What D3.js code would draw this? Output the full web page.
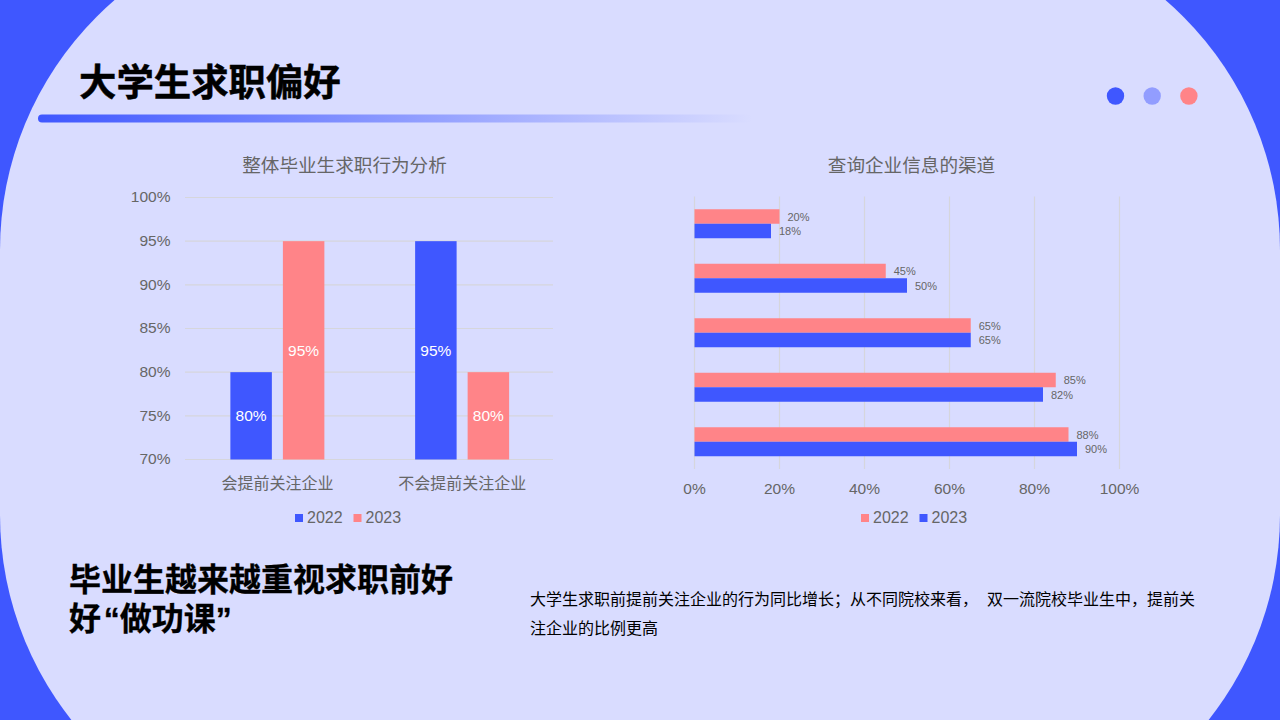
<!DOCTYPE html>
<html>
<head>
<meta charset="utf-8">
<script src="https://cdn.jsdelivr.net/npm/d3@7"></script>
<style>
  html, body { margin: 0; padding: 0; background: #3f57ff; overflow: hidden; }
  svg { display: block; }
  text { font-family: "Liberation Sans", "Noto Sans CJK SC", sans-serif; }
  .cjk { font-family: "Noto Sans CJK SC", sans-serif; }
</style>
</head>
<body>
<main></main>
<script>
// left chart
const intentCats = ["会提前关注企业", "不会提前关注企业"]
const intent2022 = [80, 95]
const intent2023 = [95, 80]
const intentTicks = [70, 75, 80, 85, 90, 95, 100]

// right chart, the reference shows no category names
const channelCats = ["a", "b", "c", "d", "e"]
const channel2022 = [20, 45, 65, 85, 88]
const channel2023 = [18, 50, 65, 82, 90]
const channelTicks = [0, 20, 40, 60, 80, 100]

const years = ["2022", "2023"]
const dotColors = ["#3f57ff", "#929dff", "#ff8488"]
const blue = "#3f57ff"
const red = "#ff8488"
const grey = "#666666"
const gridColor = "#d6d6dc"

const svg = d3.select("main").append("svg")
    .attr("width", 1280)
    .attr("height", 720)

// background shape
svg.append("rect").attr("width", 1280).attr("height", 720).attr("fill", blue)
svg.append("path")
    .attr("fill", "#d9dcff")
    .attr("d", "M0,250 A330,330 0 0 1 330,-80 L950,-80 A330,330 0 0 1 1280,250 L1280,515 A330,330 0 0 1 950,845 L330,845 A330,330 0 0 1 0,515 Z")

// header
const grad = svg.append("defs").append("linearGradient").attr("id", "headLine")
grad.append("stop").attr("offset", "0%").attr("stop-color", blue)
grad.append("stop").attr("offset", "100%").attr("stop-color", "#d9dcff")

svg.append("rect")
    .attr("x", 38).attr("y", 114.5)
    .attr("width", 714).attr("height", 8).attr("rx", 4)
    .attr("fill", "url(#headLine)")

svg.append("text")
    .attr("class", "cjk")
    .attr("x", 79).attr("y", 96)
    .attr("font-size", 37.4).attr("font-weight", 700).attr("fill", "#000")
    .attr("stroke", "#000").attr("stroke-width", 0.5)
    .text("大学生求职偏好")

svg.selectAll("circle.dot")
    .data(dotColors)
    .enter()
    .append("circle")
    .attr("class", "dot")
    .attr("cx", (d, i) => 1115.5 + i * 36.7)
    .attr("cy", 96)
    .attr("r", 8.7)
    .attr("fill", d => d)

// chart titles
svg.append("text")
    .attr("x", 344.5).attr("y", 172)
    .attr("text-anchor", "middle").attr("font-size", 18.6).attr("fill", grey)
    .text("整体毕业生求职行为分析")

svg.append("text")
    .attr("x", 911.5).attr("y", 172)
    .attr("text-anchor", "middle").attr("font-size", 18.6).attr("fill", grey)
    .text("查询企业信息的渠道")

function styleAxis(g) {
    g.select("path").remove()
    g.selectAll("line").remove()
    g.selectAll("text").attr("fill", grey).attr("font-size", 15.5)
        .style("font-family", '"Liberation Sans", "Noto Sans CJK SC", sans-serif')
}

// left chart
const yLeft = d3.scaleLinear().domain([70, 100]).range([459.5, 197.5])
const xLeft = d3.scaleBand().domain(intentCats).range([185, 554.5])
const xLeftInner = d3.scaleBand().domain(years).range([0, 94]).paddingInner(0.21)

svg.append("g").selectAll("line")
    .data(intentTicks)
    .enter()
    .append("line")
    .attr("x1", 185).attr("x2", 553)
    .attr("y1", d => yLeft(d)).attr("y2", d => yLeft(d))
    .attr("stroke", gridColor)
    .attr("stroke-width", 1.2)

svg.append("g")
    .attr("transform", "translate(170.5,-0.7)")
    .call(d3.axisLeft(yLeft).tickValues(intentTicks).tickFormat(d => d + "%").tickSize(0).tickPadding(0))
    .call(styleAxis)

svg.append("g")
    .attr("transform", "translate(0,473)")
    .call(d3.axisBottom(xLeft).tickSize(0).tickPadding(0))
    .call(styleAxis)
    .call(g => g.selectAll("text").attr("font-size", 16).attr("dy", "1em"))

const leftSeries = [
    { year: "2022", values: intent2022, color: blue },
    { year: "2023", values: intent2023, color: red }
]

leftSeries.forEach(s => {
    const left = i => xLeft(intentCats[i]) + xLeft.bandwidth() / 2 - 47 + xLeftInner(s.year)
    svg.append("g").selectAll("rect")
        .data(s.values)
        .enter()
        .append("rect")
        .attr("x", (d, i) => left(i))
        .attr("y", d => yLeft(d))
        .attr("width", xLeftInner.bandwidth())
        .attr("height", d => yLeft(70) - yLeft(d))
        .attr("fill", s.color)
    svg.append("g").selectAll("text")
        .data(s.values)
        .enter()
        .append("text")
        .attr("x", (d, i) => left(i) + xLeftInner.bandwidth() / 2)
        .attr("y", d => (yLeft(d) + yLeft(70)) / 2 + 5.5)
        .attr("text-anchor", "middle")
        .attr("font-size", 15.5)
        .attr("fill", "#fff")
        .text(d => d + "%")
})

// right chart
const xRight = d3.scaleLinear().domain([0, 100]).range([694.5, 1119.5])
const yRight = d3.scaleBand().domain(channelCats).range([196.5, 469])
const barH = 14.5

svg.append("g").selectAll("line")
    .data(channelTicks)
    .enter()
    .append("line")
    .attr("x1", d => xRight(d)).attr("x2", d => xRight(d))
    .attr("y1", 196.5).attr("y2", 469)
    .attr("stroke", gridColor)
    .attr("stroke-width", 1.2)

svg.append("g")
    .attr("transform", "translate(-0.5,483)")
    .call(d3.axisBottom(xRight).tickValues(channelTicks).tickFormat(d => d + "%").tickSize(0).tickPadding(0))
    .call(styleAxis)

const rightSeries = [
    { year: "2022", values: channel2022, color: red, offset: -barH },
    { year: "2023", values: channel2023, color: blue, offset: 0 }
]

rightSeries.forEach(s => {
    const top = i => yRight(channelCats[i]) + yRight.bandwidth() / 2 + s.offset
    svg.append("g").selectAll("rect")
        .data(s.values)
        .enter()
        .append("rect")
        .attr("x", xRight(0))
        .attr("y", (d, i) => top(i))
        .attr("width", d => xRight(d) - xRight(0))
        .attr("height", barH)
        .attr("fill", s.color)
    svg.append("g").selectAll("text")
        .data(s.values)
        .enter()
        .append("text")
        .attr("x", d => xRight(d) + 8)
        .attr("y", (d, i) => top(i) + barH / 2 + 4)
        .attr("font-size", 11)
        .attr("fill", grey)
        .text(d => d + "%")
})

// legends
function legend(x, items) {
    items.forEach((it, i) => {
        const lx = x + i * 58.5
        svg.append("rect")
            .attr("x", lx).attr("y", 514)
            .attr("width", 8).attr("height", 8)
            .attr("fill", it.color)
        svg.append("text")
            .attr("x", lx + 12).attr("y", 523)
            .attr("font-size", 16).attr("fill", grey)
            .text(it.year)
    })
}
legend(295, leftSeries)
legend(861, rightSeries)

// notes
const headline = ["毕业生越来越重视求职前好", "好\u200a“做功课”"]
const body = ["大学生求职前提前关注企业的行为同比增长；从不同院校来看，  双一流院校毕业生中，提前关", "注企业的比例更高"]

svg.append("g").selectAll("text")
    .data(headline)
    .enter()
    .append("text")
    .attr("x", 69)
    .attr("y", (d, i) => 591 + i * 39)
    .attr("font-size", 32).attr("font-weight", 700).attr("fill", "#000")
    .attr("stroke", "#000").attr("stroke-width", 0.3)
    .text(d => d)

svg.append("g").selectAll("text")
    .data(body)
    .enter()
    .append("text")
    .attr("x", 530)
    .attr("y", (d, i) => 605 + i * 28.5)
    .attr("font-size", 16).attr("fill", "#000")
    .style("white-space", "pre")
    .text(d => d)
</script>
</body>
</html>
